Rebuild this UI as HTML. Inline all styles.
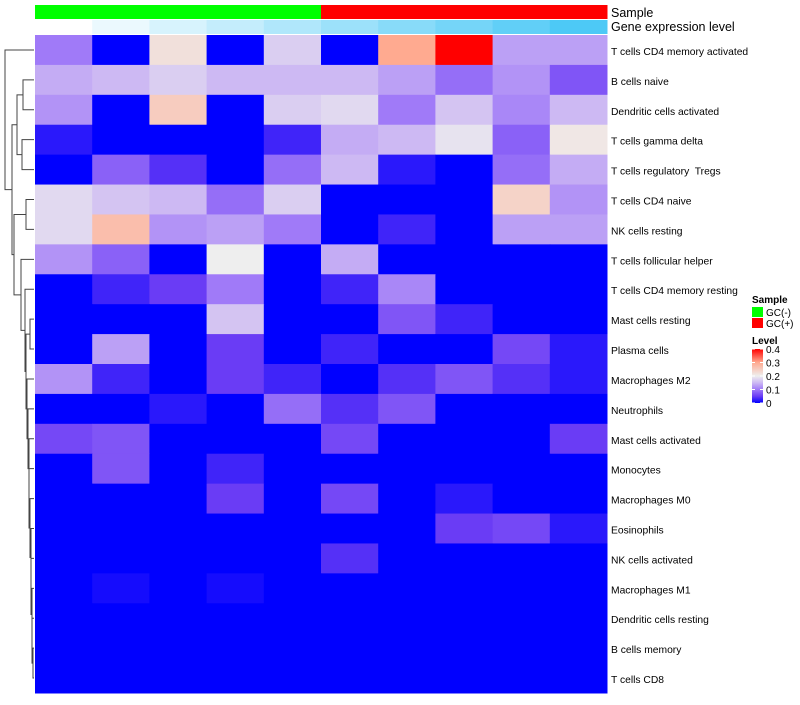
<!DOCTYPE html>
<html><head><meta charset="utf-8"><style>
body{margin:0;background:#fff;font-family:"Liberation Sans",sans-serif;}
svg text{font-family:"Liberation Sans",sans-serif;}
</style></head><body>
<svg id="chart" width="800" height="700">
<g id="dendro"></g>
<g id="annot"></g>
<g id="cells"></g>
<g id="rlabels"></g>
<g id="legend"></g>
</svg>
<script>
const rowNames=["T cells CD4 memory activated","B cells naive","Dendritic cells activated","T cells gamma delta","T cells regulatory\u00a0 Tregs","T cells CD4 naive","NK cells resting","T cells follicular helper","T cells CD4 memory resting","Mast cells resting","Plasma cells","Macrophages M2","Neutrophils","Mast cells activated","Monocytes","Macrophages M0","Eosinophils","NK cells activated","Macrophages M1","Dendritic cells resting","B cells memory","T cells CD8"];
const sampleGroups=["GC(-)","GC(-)","GC(-)","GC(-)","GC(-)","GC(+)","GC(+)","GC(+)","GC(+)","GC(+)"];
const geneLevel=[0,1,2,3,4,5,6,7,8,9];
const values=[
[0.10,0,0.22,0,0.17,0,0.30,0.40,0.13,0.13],
[0.14,0.15,0.17,0.15,0.15,0.15,0.13,0.09,0.12,0.07],
[0.12,0,0.25,0,0.17,0.18,0.10,0.16,0.11,0.15],
[0.02,0,0,0,0.03,0.14,0.15,0.19,0.08,0.21],
[0,0.08,0.04,0,0.09,0.15,0.02,0,0.09,0.14],
[0.18,0.16,0.15,0.09,0.17,0,0,0,0.24,0.12],
[0.18,0.27,0.12,0.13,0.10,0,0.03,0,0.13,0.13],
[0.12,0.08,0,0.20,0,0.14,0,0,0,0],
[0,0.03,0.05,0.10,0,0.03,0.11,0,0,0],
[0,0,0,0.16,0,0,0.07,0.03,0,0],
[0,0.13,0,0.05,0,0.03,0,0,0.06,0.02],
[0.12,0.03,0,0.05,0.03,0,0.04,0.07,0.04,0.02],
[0,0,0.02,0,0.09,0.04,0.07,0,0,0],
[0.06,0.07,0,0,0,0.06,0,0,0,0.05],
[0,0.07,0,0.03,0,0,0,0,0,0],
[0,0,0,0.05,0,0.06,0,0.02,0,0],
[0,0,0,0,0,0,0,0.05,0.06,0.02],
[0,0,0,0,0,0.04,0,0,0,0],
[0,0.01,0,0.01,0,0,0,0,0,0],
[0,0,0,0,0,0,0,0,0,0],
[0,0,0,0,0,0,0,0,0,0],
[0,0,0,0,0,0,0,0,0,0]];
const legendTicks=[0,0.1,0.2,0.3,0.4];

const NS="http://www.w3.org/2000/svg";
function mk(tag,attrs,parent){const e=document.createElementNS(NS,tag);for(const k in attrs)e.setAttribute(k,attrs[k]);parent.appendChild(e);return e;}
const X0=35,X1=607,Y0=35,Y1=693;
const nC=values[0].length,nR=values.length;
const cw=(X1-X0)/nC,rh=(Y1-Y0)/nR;
const xs=i=>X0+i*cw, ys=j=>Y0+j*rh;
const stops=[[0,[0,0,255]],[0.05,[106,60,245]],[0.1,[160,122,248]],[0.15,[205,185,243]],[0.2,[238,238,238]],[0.3,[255,170,144]],[0.4,[255,0,0]]];
function col(v){v=Math.max(0,Math.min(0.4,v));for(let i=1;i<stops.length;i++){if(v<=stops[i][0]){const a=stops[i-1],b=stops[i];const t=(v-a[0])/(b[0]-a[0]);const c=a[1].map((x,k)=>Math.round(x+(b[1][k]-x)*t));return `rgb(${c})`;}}return "red";}
function geneCol(l){const t=l/9;const a=[255,255,255],b=[77,201,246];return `rgb(${a.map((x,k)=>Math.round(x+(b[k]-x)*t))})`;}

const cells=document.getElementById('cells');
values.forEach((row,j)=>row.forEach((v,i)=>{
 const r=mk('rect',{x:xs(i),y:ys(j),width:cw+0.5,height:rh+0.5,fill:col(v)},cells);
 
 
}));
const rl=document.getElementById('rlabels');
rowNames.forEach((n,j)=>{const t=mk('text',{x:611,y:ys(j)+rh/2+5,'font-size':10.3,fill:'#000'},rl);t.textContent=n;
 
 });
const an=document.getElementById('annot');
sampleGroups.forEach((g,i)=>{const r=mk('rect',{x:xs(i),y:5,width:cw+0.5,height:14,fill:g==="GC(-)"?"#00FF00":"#FF0000"},an);
 
 });
geneLevel.forEach((l,i)=>{const r=mk('rect',{x:xs(i),y:20,width:cw+0.5,height:14,fill:geneCol(l)},an);
 
 });
let t=mk('text',{x:611,y:17,'font-size':12.5},an);t.textContent="Sample";

t=mk('text',{x:611,y:31,'font-size':12.5},an);t.textContent="Gene expression level";


const dg=document.getElementById('dendro');
const leafX=34;
function node(idx){return {y:ys(idx)+rh/2,x:leafX};}
function merge(a,b,x){mk('path',{d:`M${a.x},${a.y}H${x}V${b.y}H${b.x}`,fill:'none',stroke:'#444','stroke-width':1},dg);return {x:x,y:(a.y+b.y)/2};}
let n12=merge(node(1),node(2),23);let n34=merge(node(3),node(4),22);let B=merge(n12,n34,17);
let D=merge(node(5),node(6),26);
let ch=merge(node(20),node(21),33);
ch=merge(node(19),ch,32);ch=merge(node(18),ch,32);ch=merge(node(17),ch,31);ch=merge(node(16),ch,31);ch=merge(node(15),ch,30);ch=merge(node(14),ch,29);ch=merge(node(13),ch,29);ch=merge(node(12),ch,28);ch=merge(node(11),ch,27);
let n10=merge(node(9),node(10),30);ch=merge(n10,ch,26);
let n89=merge(node(8),ch,25);
let E=merge(node(7),n89,21);
let C=merge(D,E,14);
let A=merge(B,C,12);
merge(node(0),A,5);

const lg=document.getElementById('legend');
t=mk('text',{x:752,y:303,'font-size':10,'font-weight':'bold'},lg);t.textContent="Sample";

[["GC(-)","#00FF00"],["GC(+)","#FF0000"]].forEach((e,k)=>{
 const r=mk('rect',{x:752,y:307+k*11,width:11,height:10,fill:e[1]},lg);
 
 const tt=mk('text',{x:766,y:316+k*11,'font-size':10},lg);tt.textContent=e[0];
 });
t=mk('text',{x:752,y:344,'font-size':10,'font-weight':'bold'},lg);t.textContent="Level";

const gy0=349,gy1=403;
const defs=mk('defs',{},lg);const gr=mk('linearGradient',{id:'lgrad',x1:0,y1:1,x2:0,y2:0},defs);
stops.forEach(s=>mk('stop',{offset:s[0]/0.4,'stop-color':`rgb(${s[1]})`},gr));
const bar=mk('rect',{x:752,y:gy0,width:11,height:gy1-gy0,fill:'url(#lgrad)'},lg);

legendTicks.forEach(v=>{const y=gy1-(v/0.4)*(gy1-gy0);
 mk('line',{x1:752,x2:755,y1:y,y2:y,stroke:'#fff'},lg);mk('line',{x1:760,x2:763,y1:y,y2:y,stroke:'#fff'},lg);
 const tt=mk('text',{x:766,y:y+4,'font-size':10},lg);tt.textContent=String(v);
 });
</script>
</body></html>
